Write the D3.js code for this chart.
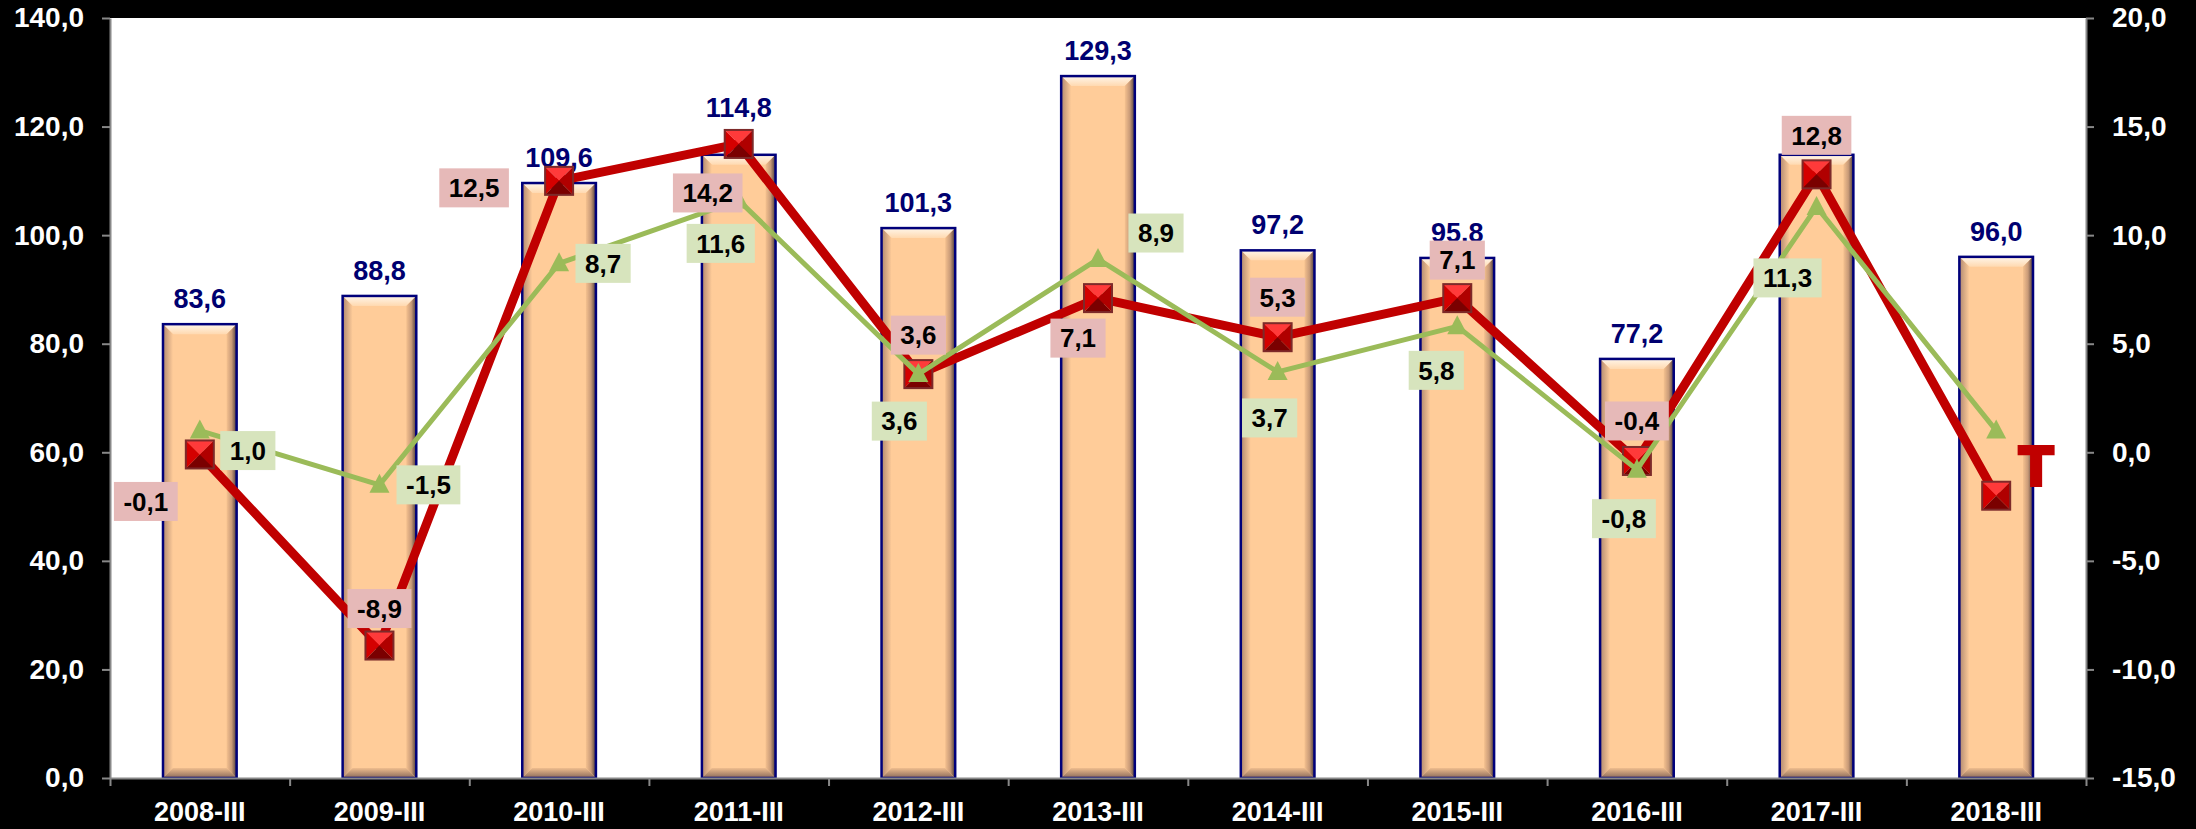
<!DOCTYPE html>
<html>
<head>
<meta charset="utf-8">
<script src="https://cdn.jsdelivr.net/npm/d3@7"></script>
<style>
  html, body { margin: 0; padding: 0; background: #000; }
  svg { display: block; }
</style>
</head>
<body>
<svg id="chart"></svg>
<script>
// data
const categories = ['2008-III', '2009-III', '2010-III', '2011-III', '2012-III', '2013-III',
    '2014-III', '2015-III', '2016-III', '2017-III', '2018-III'];
const barValues = [83.6, 88.8, 109.6, 114.8, 101.3, 129.3, 97.2, 95.8, 77.2, 114.8, 96.0];
const barLabels = ['83,6', '88,8', '109,6', '114,8', '101,3', '129,3', '97,2', '95.8', '77,2', '', '96,0'];
const redValues = [-0.1, -8.9, 12.5, 14.2, 3.6, 7.1, 5.3, 7.1, -0.4, 12.8, -2.0];
const greenValues = [1.0, -1.5, 8.7, 11.6, 3.6, 8.9, 3.7, 5.8, -0.8, 11.3, 1.0];
const leftTicks = [0, 20, 40, 60, 80, 100, 120, 140];
const rightTicks = [-15, -10, -5, 0, 5, 10, 15, 20];

// where each label sits relative to its point (layout only)
const barLabelLift = [0, 0, 0, 22, 0, 0, 0, 0, 0, 0, 0];
const redLabelShift = [[-54, 47], [0, -37], [-85, 7], [-31, 49], [0, -39], [-20, 40],
    [0, -40], [0, -38], [0, -40], [0, -39], null];
const greenLabelShift = [[48, 20], [49, 0], [44, 0], [-18, 43], [-19, 47], [58, -26],
    [-8, 46], [-21, 44], [-13, 49], [-29, 71], null];

const width = 2196;
const height = 829;
const plot = { left: 110, right: 2086, top: 18, bottom: 778 };
const font = "'Liberation Sans', Arial, sans-serif";
const fmt = v => v.toFixed(1).replace('.', ',');

const svg = d3.select('#chart')
    .attr('width', width)
    .attr('height', height)
    .style('font-family', font)
    .style('font-weight', 'bold');

svg.append('rect').attr('width', width).attr('height', height).attr('fill', '#000');
svg.append('rect')
    .attr('x', plot.left).attr('y', plot.top)
    .attr('width', plot.right - plot.left).attr('height', plot.bottom - plot.top)
    .attr('fill', '#fff');

const x = d3.scaleBand().domain(categories).range([plot.left, plot.right])
    .paddingInner(0.59).paddingOuter(0.295);
const xEdge = d3.scaleLinear().domain([0, categories.length]).range([plot.left, plot.right]);
const yL = d3.scaleLinear().domain([0, 140]).range([plot.bottom, plot.top]);
const yR = d3.scaleLinear().domain([-15, 20]).range([plot.bottom, plot.top]);
const cx = (d, i) => x(categories[i]) + x.bandwidth() / 2;

// gradients for the bevelled bars
const defs = svg.append('defs');
const grad = (id, x2, y2, stops) => {
    const g = defs.append('linearGradient').attr('id', id)
        .attr('x1', 0).attr('y1', 0).attr('x2', x2).attr('y2', y2);
    stops.forEach(s => g.append('stop').attr('offset', s[0]).attr('stop-color', s[1]));
};
grad('bevTop', 0, 1, [[0, '#fff6ea'], [1, '#ffd9b0']]);
grad('bevRight', 1, 0, [[0, '#f5c18f'], [0.5, '#c89a78'], [1, '#4a3a3a']]);
grad('bevLeft', 1, 0, [[0, '#b08870'], [1, '#ffcc99']]);
grad('bevBottom', 0, 1, [[0, '#efbd8e'], [1, '#8a6a5a']]);

// bars
const b = 10;
const bars = svg.append('g').selectAll('g')
    .data(barValues)
    .join('g')
    .attr('transform', (d, i) => `translate(${x(categories[i])},${yL(d)})`);

bars.each(function (d) {
    const g = d3.select(this);
    const w = x.bandwidth();
    const h = yL(0) - yL(d);
    g.append('rect').attr('width', w).attr('height', h).attr('fill', '#ffcc99');
    g.append('polygon').attr('points', [[0, 0], [w, 0], [w - b, b], [b, b]].join(' ')).attr('fill', 'url(#bevTop)');
    g.append('polygon').attr('points', [[w, 0], [w, h], [w - b, h - b], [w - b, b]].join(' ')).attr('fill', 'url(#bevRight)');
    g.append('polygon').attr('points', [[0, 0], [b, b], [b, h - b], [0, h]].join(' ')).attr('fill', 'url(#bevLeft)');
    g.append('polygon').attr('points', [[0, h], [b, h - b], [w - b, h - b], [w, h]].join(' ')).attr('fill', 'url(#bevBottom)');
    g.append('rect').attr('width', w).attr('height', h)
        .attr('fill', 'none').attr('stroke', '#00007a').attr('stroke-width', 2.5);
});

// bar value labels
svg.append('g').selectAll('text')
    .data(barValues)
    .join('text')
    .attr('x', cx)
    .attr('y', (d, i) => yL(d) - 16 - barLabelLift[i])
    .attr('text-anchor', 'middle')
    .attr('font-size', 27)
    .attr('fill', '#000070')
    .text((d, i) => barLabels[i]);

// axes
const axisStyle = g => {
    g.select('.domain').attr('stroke', '#888').attr('stroke-width', 2);
    g.selectAll('.tick line').attr('stroke', '#888').attr('stroke-width', 2);
    g.selectAll('text').attr('fill', '#fff').attr('font-size', 28)
        .attr('font-family', font).attr('font-weight', 'bold');
};

svg.append('g')
    .attr('transform', `translate(${plot.left},0)`)
    .call(d3.axisLeft(yL).tickValues(leftTicks).tickFormat(fmt).tickSize(8).tickPadding(18).tickSizeOuter(0))
    .call(axisStyle);

svg.append('g')
    .attr('transform', `translate(${plot.right},0)`)
    .call(d3.axisRight(yR).tickValues(rightTicks).tickFormat(fmt).tickSize(8).tickPadding(18).tickSizeOuter(0))
    .call(axisStyle);

svg.append('g')
    .attr('transform', `translate(0,${plot.bottom})`)
    .call(d3.axisBottom(xEdge).tickValues(d3.range(0, categories.length + 1)).tickFormat('').tickSize(8).tickSizeOuter(0))
    .call(axisStyle);

svg.append('g')
    .attr('transform', `translate(0,${plot.bottom})`)
    .call(d3.axisBottom(x).tickSize(0).tickPadding(24))
    .call(g => g.select('.domain').remove())
    .call(axisStyle)
    .call(g => g.selectAll('text').attr('font-size', 27));

// red line with pyramid markers
const redLine = d3.line().x((d, i) => cx(d, i)).y(d => yR(d));
svg.append('path')
    .datum(redValues)
    .attr('fill', 'none')
    .attr('stroke', '#c00000')
    .attr('stroke-width', 9)
    .attr('stroke-linejoin', 'round')
    .attr('d', redLine);

const s = 14;
const redMarks = svg.append('g').selectAll('g')
    .data(redValues)
    .join('g')
    .attr('transform', (d, i) => `translate(${cx(d, i)},${yR(d)})`);
redMarks.append('polygon').attr('points', `${-s},${-s} ${s},${-s} 0,0`).attr('fill', '#ff3a3a');
redMarks.append('polygon').attr('points', `${-s},${-s} 0,0 ${-s},${s}`).attr('fill', '#d40000');
redMarks.append('polygon').attr('points', `${s},${-s} 0,0 ${s},${s}`).attr('fill', '#b00000');
redMarks.append('polygon').attr('points', `${-s},${s} 0,0 ${s},${s}`).attr('fill', '#7a0000');
redMarks.append('rect')
    .attr('x', -s).attr('y', -s).attr('width', 2 * s).attr('height', 2 * s)
    .attr('fill', 'none').attr('stroke', '#7d2a2a').attr('stroke-width', 2);

// green line with triangle markers
const greenLine = d3.line().x((d, i) => cx(d, i)).y(d => yR(d));
svg.append('path')
    .datum(greenValues)
    .attr('fill', 'none')
    .attr('stroke', '#9bbb59')
    .attr('stroke-width', 5)
    .attr('stroke-linejoin', 'round')
    .attr('d', greenLine);

svg.append('g').selectAll('path')
    .data(greenValues)
    .join('path')
    .attr('transform', (d, i) => `translate(${cx(d, i)},${yR(d)})`)
    .attr('d', 'M0,-11 L10,8 L-10,8 Z')
    .attr('fill', '#9bbb59');

// boxed value labels
const boxedLabels = (values, shifts, bg) => {
    const g = svg.append('g').selectAll('g')
        .data(values.map((v, i) => ({ v, i })).filter(d => shifts[d.i]))
        .join('g')
        .attr('transform', d => `translate(${cx(d.v, d.i) + shifts[d.i][0]},${yR(d.v) + shifts[d.i][1]})`);
    g.append('rect').attr('fill', bg);
    const text = g.append('text')
        .attr('text-anchor', 'middle')
        .attr('dy', '0.36em')
        .attr('font-size', 26)
        .attr('fill', '#000')
        .text(d => fmt(d.v));
    text.each(function () {
        const w = this.getComputedTextLength() + 19;
        d3.select(this.previousSibling)
            .attr('x', -w / 2).attr('y', -19.5).attr('width', w).attr('height', 39);
    });
};
boxedLabels(redValues, redLabelShift, '#e6b9b8');
boxedLabels(greenValues, greenLabelShift, '#d7e4bd');

// stray red mark beside the last point
const last = redValues.length - 1;
svg.append('text')
    .attr('x', cx(redValues[last], last) + 40)
    .attr('y', yR(redValues[last]) - 11)
    .attr('text-anchor', 'middle')
    .attr('font-size', 56)
    .attr('fill', '#c00000')
    .attr('stroke', '#c00000')
    .attr('stroke-width', 4)
    .text('T');
</script>
</body>
</html>
